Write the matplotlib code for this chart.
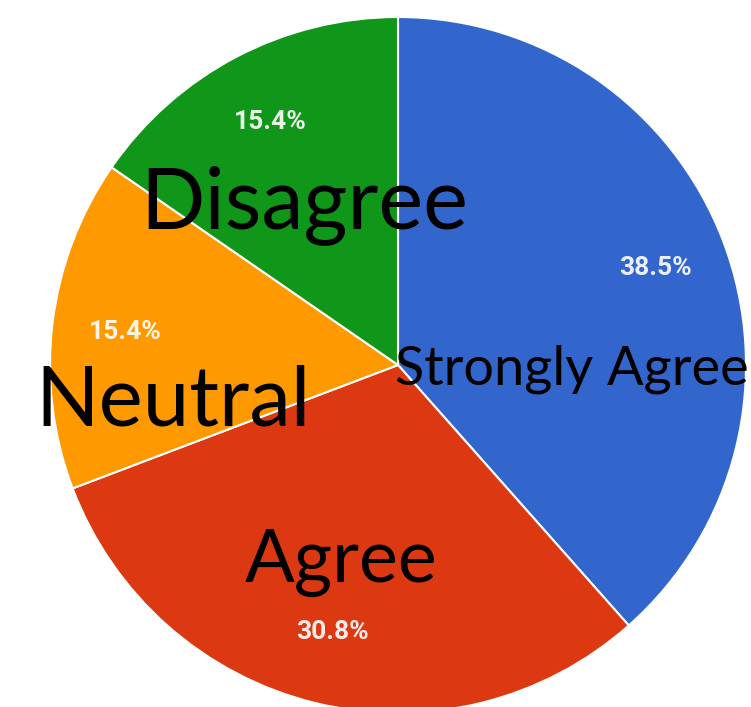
import matplotlib.pyplot as plt

# survey responses (counts) and chart labels
categories = ['Strongly Agree', 'Agree', 'Neutral', 'Disagree']
counts = [5, 4, 2, 2]
colors = ['#3366cc', '#dc3912', '#ff9900', '#109618']

# big overlaid category labels: (text, x px, baseline y px, size)
overlay = [
    ('Disagree', 140, 228, 61),
    ('Neutral', 35, 425, 60),
    ('Agree', 245, 582, 53),
    ('Strongly Agree', 395, 385, 39),
]

W, H = 751, 707
cx, cy, R = 398, 365, 348

fig = plt.figure(figsize=(W / 100, H / 100), dpi=100)
ax = fig.add_axes([0, 0, 1, 1])

wedges, texts, autotexts = ax.pie(
    counts, colors=colors, startangle=90, counterclock=False,
    autopct='%.1f%%', pctdistance=0.79, radius=1,
    wedgeprops=dict(edgecolor='white', linewidth=1.5),
    textprops=dict(color='white', fontsize=19, fontweight='bold',
                   family='Roboto', alpha=0.9))

ax.set_xlim(-cx / R, (W - cx) / R)
ax.set_ylim(-(H - cy) / R, cy / R)
ax.set_aspect('auto')
ax.axis('off')

for txt, x, y, size in overlay:
    fig.text(x / W, 1 - y / H, txt, ha='left', va='baseline',
             fontsize=size, family='Lato', color='black')

fig.savefig('out.png', dpi=100, facecolor='white')
